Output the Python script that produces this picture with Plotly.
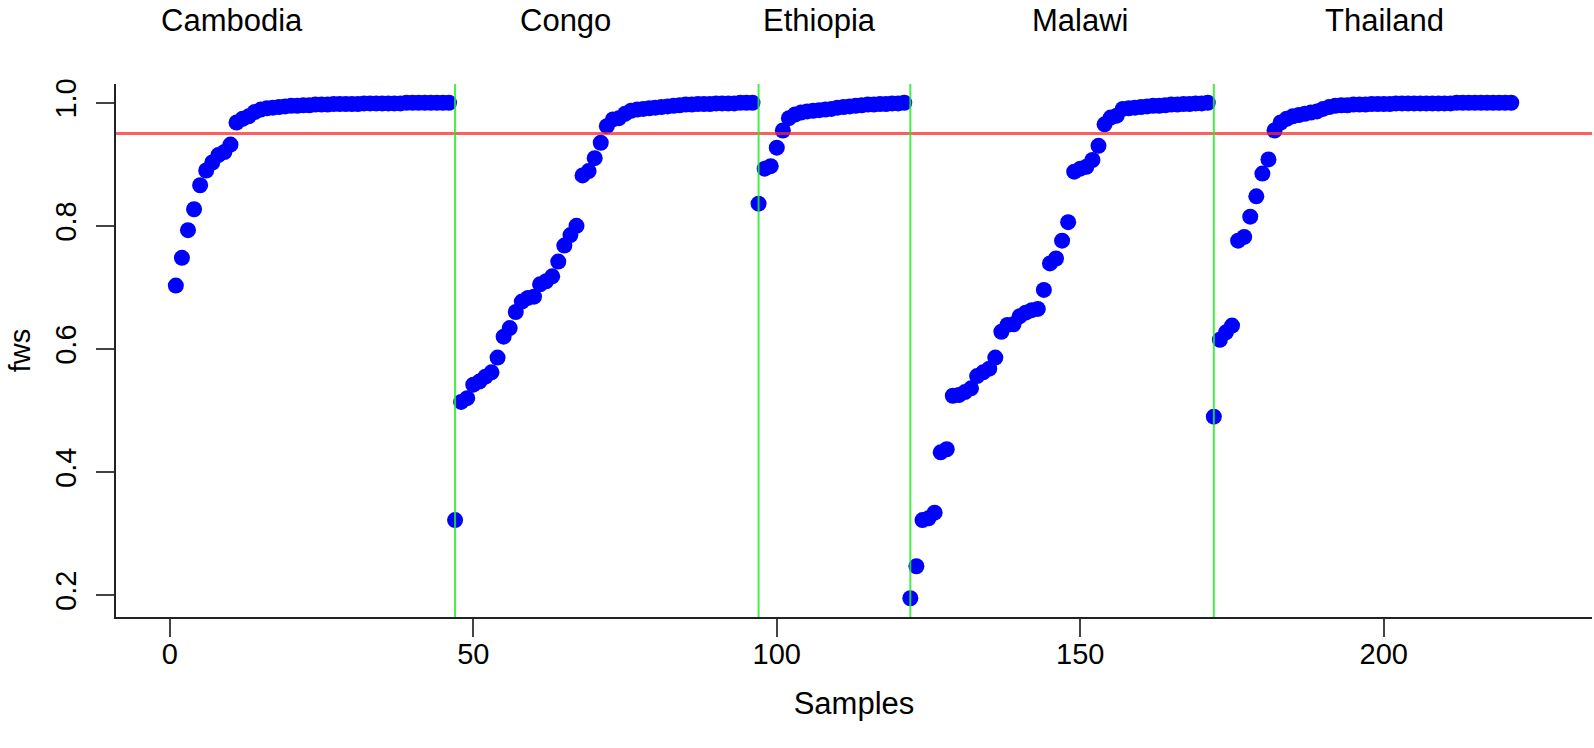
import itertools
import plotly.graph_objects as go

countries = ["Cambodia", "Congo", "Ethiopia", "Malawi", "Thailand"]

cambodia = [0.703, 0.748, 0.793, 0.827, 0.866, 0.890, 0.903, 0.915, 0.920, 0.932,
            0.968, 0.974, 0.978, 0.985, 0.989, 0.991, 0.992, 0.993, 0.994, 0.995,
            0.995, 0.996, 0.996, 0.997, 0.997, 0.997, 0.998, 0.998, 0.998, 0.998,
            0.998, 0.999, 0.999, 0.999, 0.999, 0.999, 0.999, 0.999, 1.0, 1.0,
            1.0, 1.0, 1.0, 1.0, 1.0, 1.0]

congo = [0.322, 0.514, 0.520, 0.542, 0.547, 0.555, 0.562, 0.586, 0.620, 0.634,
         0.660, 0.677, 0.683, 0.685, 0.705, 0.710, 0.718, 0.742, 0.768, 0.785,
         0.800, 0.882, 0.889, 0.910, 0.935, 0.962, 0.973, 0.975, 0.982, 0.987,
         0.989, 0.990, 0.991, 0.992, 0.993, 0.994, 0.995, 0.996, 0.997, 0.997,
         0.998, 0.998, 0.998, 0.999, 0.999, 0.999, 0.999, 1.0, 1.0, 1.0]

ethiopia = [0.836, 0.893, 0.897, 0.927, 0.955, 0.975, 0.981, 0.984, 0.986, 0.987,
            0.988, 0.989, 0.990, 0.992, 0.993, 0.994, 0.995, 0.996, 0.997, 0.997,
            0.998, 0.998, 0.999, 0.999, 1.0]

malawi = [0.195, 0.247, 0.322, 0.325, 0.334, 0.432, 0.437, 0.524, 0.525, 0.530,
          0.536, 0.556, 0.562, 0.568, 0.586, 0.628, 0.639, 0.640, 0.653, 0.659,
          0.663, 0.665, 0.696, 0.739, 0.747, 0.776, 0.806, 0.888, 0.893, 0.896,
          0.907, 0.930, 0.965, 0.976, 0.979, 0.990, 0.991, 0.992, 0.993, 0.994,
          0.995, 0.995, 0.996, 0.997, 0.997, 0.998, 0.998, 0.999, 0.999, 1.0]

thailand = [0.490, 0.615, 0.627, 0.638, 0.776, 0.782, 0.815, 0.848, 0.885, 0.908,
            0.955, 0.968, 0.974, 0.978, 0.980, 0.982, 0.984, 0.986, 0.990, 0.993,
            0.995, 0.996, 0.996, 0.997, 0.997, 0.997, 0.998, 0.998, 0.998, 0.998,
            0.999, 0.999, 0.999, 0.999, 0.999, 0.999, 0.999, 0.999, 0.999, 0.999,
            1.0, 1.0, 1.0, 1.0, 1.0, 1.0, 1.0, 1.0, 1.0, 1.0]

label_x = [10.2, 65.2, 107.1, 150.0, 200.1]
threshold = 0.95
x_ticks = [0, 50, 100, 150, 200]
y_ticks = [0.2, 0.4, 0.6, 0.8, 1.0]

groups = [cambodia, congo, ethiopia, malawi, thailand]
fws = list(itertools.chain.from_iterable(groups))
samples = list(range(1, len(fws) + 1))
sizes = [len(g) for g in groups]
starts = [s + 1 for s in itertools.accumulate(sizes)][:-1]

NARROW = "Liberation Sans Narrow, Arial Narrow, Liberation Sans, Arial, sans-serif"
REG = "Liberation Sans, Arial, sans-serif"

fig = go.Figure()
fig.add_trace(go.Scatter(
    x=samples, y=fws, mode="markers",
    marker=dict(size=16, color="#0000FF", line=dict(width=0)),
    showlegend=False, hoverinfo="x+y",
))

shapes = [dict(type="line", xref="paper", yref="y", x0=0, x1=1, y0=threshold, y1=threshold,
               line=dict(color="rgba(255,40,40,0.75)", width=3))]
for s in starts:
    shapes.append(dict(type="line", xref="x", yref="paper", x0=s, x1=s, y0=0, y1=1,
                       line=dict(color="rgba(40,235,40,0.85)", width=2)))

annotations = []
for name, lx in zip(countries, label_x):
    annotations.append(dict(x=lx, y=1.12, xref="x", yref="paper", text=name,
                            showarrow=False, xanchor="center", yanchor="middle",
                            font=dict(family=NARROW, size=31, color="black")))

fig.update_layout(
    width=1594, height=748,
    margin=dict(l=116, r=2, t=84, b=131),
    paper_bgcolor="white", plot_bgcolor="white",
    shapes=shapes, annotations=annotations,
    xaxis=dict(range=[-8.86, 234.3], tickvals=x_ticks, showgrid=False, zeroline=False,
               automargin=False,
               showline=True, linecolor="#222", linewidth=2,
               ticks="outside", ticklen=18, tickwidth=2, tickcolor="#444",
               ticklabelstandoff=-8,
               tickfont=dict(family=NARROW, size=29, color="black"),
               title=dict(text="Samples", font=dict(family=NARROW, size=31, color="black"),
                          standoff=24)),
    yaxis=dict(range=[0.1645, 1.0305], tickvals=y_ticks, tickformat=".1f", showgrid=False,
               automargin=False,
               zeroline=False, showline=True, linecolor="#222", linewidth=2,
               ticks="outside", ticklen=18, tickwidth=2, tickcolor="#444", tickangle=-90,
               ticklabelstandoff=8,
               tickfont=dict(family=REG, size=29, color="black"),
               title=dict(text="fws", font=dict(family=REG, size=29, color="black"),
                          standoff=11)),
)

fig.write_html(
    "out.html",
    config={"displayModeBar": False},
    post_script="document.body.style.margin='0px';document.body.style.overflow='hidden';",
)
